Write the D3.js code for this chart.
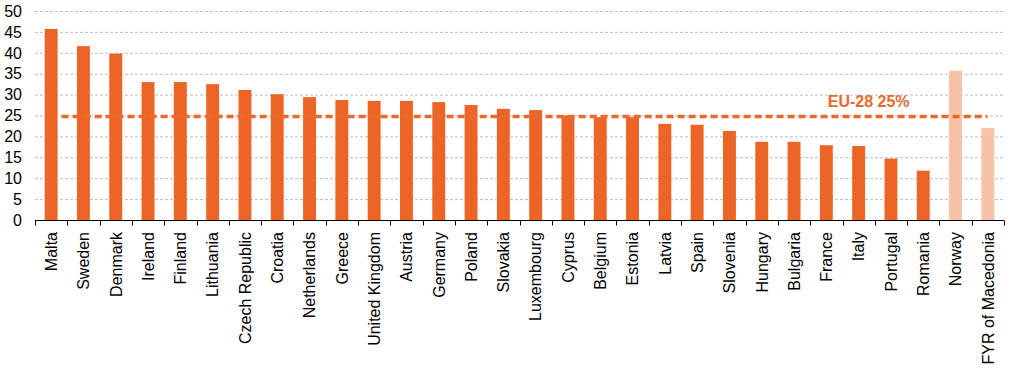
<!DOCTYPE html>
<html>

<head>
    <meta charset="utf-8">
    <title>EU-28 share bar chart</title>
    <script type="text/javascript" src="https://d3js.org/d3.v7.min.js"></script>
    <style>
        body {
            margin: 0;
            background: #fff;
        }

        svg {
            display: block;
            font-family: "Liberation Sans", Arial, sans-serif;
        }
    </style>
</head>

<body>
</body>

<script type="text/javascript">
    var w = 1012;
    var h = 376;

    // countries, left to right
    var countries = ["Malta", "Sweden", "Denmark", "Ireland", "Finland", "Lithuania", "Czech Republic",
        "Croatia", "Netherlands", "Greece", "United Kingdom", "Austria", "Germany", "Poland", "Slovakia",
        "Luxembourg", "Cyprus", "Belgium", "Estonia", "Latvia", "Spain", "Slovenia", "Hungary", "Bulgaria",
        "France", "Italy", "Portugal", "Romania", "Norway", "FYR of Macedonia"];

    var values = [45.7, 41.6, 39.8, 33.0, 33.0, 32.5, 31.1, 30.1, 29.4, 28.7, 28.5, 28.5, 28.2, 27.5, 26.6,
        26.3, 25.0, 24.6, 24.6, 23.0, 22.8, 21.3, 18.7, 18.7, 17.9, 17.7, 14.7, 11.8, 35.7, 22.0];

    // non EU countries get the lighter colour
    var nonEU = ["Norway", "FYR of Macedonia"];

    var yTicks = [0, 5, 10, 15, 20, 25, 30, 35, 40, 45, 50];

    var euAverage = 25;
    var euLabel = "EU-28 25%";

    var margin = { top: 11, right: 8, bottom: 156, left: 35 };

    var svg = d3.select("body").append("svg").attr("width", w).attr("height", h);

    var xScale = d3.scaleBand()
        .domain(countries)
        .range([margin.left, w - margin.right])
        .paddingInner(0.6)
        .paddingOuter(0.3);

    var yScale = d3.scaleLinear()
        .domain([0, 50])
        .range([h - margin.bottom, margin.top]);

    // gridlines
    svg.append("g")
        .selectAll("line")
        .data(yTicks.slice(1))
        .enter()
        .append("line")
        .attr("x1", margin.left)
        .attr("x2", w - margin.right)
        .attr("y1", function(d) { return yScale(d) + 0.5; })
        .attr("y2", function(d) { return yScale(d) + 0.5; })
        .attr("stroke", "#bdbdbd")
        .attr("stroke-width", 1)
        .attr("stroke-dasharray", "3,2");

    // y tick labels
    svg.append("g")
        .selectAll("text")
        .data(yTicks)
        .enter()
        .append("text")
        .attr("x", 22)
        .attr("y", function(d) { return yScale(d); })
        .attr("dy", "0.36em")
        .attr("text-anchor", "end")
        .attr("font-size", 16)
        .attr("fill", "#000")
        .text(function(d) { return d; });

    // bars
    svg.append("g")
        .selectAll("rect")
        .data(countries)
        .enter()
        .append("rect")
        .attr("x", function(d) { return xScale(d); })
        .attr("y", function(d, i) { return yScale(values[i]); })
        .attr("width", xScale.bandwidth())
        .attr("height", function(d, i) { return yScale(0) - yScale(values[i]); })
        .attr("fill", function(d) {
            return nonEU.indexOf(d) >= 0 ? "#F7C2A6" : "#EC6527";
        });

    // EU average dashed line
    svg.append("line")
        .attr("x1", xScale(countries[0]) + xScale.bandwidth() + 4)
        .attr("x2", xScale(countries[countries.length - 1]) + 6)
        .attr("y1", yScale(euAverage) + 1)
        .attr("y2", yScale(euAverage) + 1)
        .attr("stroke", "#EA6A2E")
        .attr("stroke-width", 3.5)
        .attr("stroke-dasharray", "7,4");

    svg.append("text")
        .attr("x", xScale("Italy") + xScale.bandwidth() / 2 + 10)
        .attr("y", yScale(euAverage) - 9)
        .attr("text-anchor", "middle")
        .attr("font-size", 16)
        .attr("font-weight", "bold")
        .attr("fill", "#E8692E")
        .text(euLabel);

    // x axis line with ticks between categories
    var axisY = yScale(0) + 0.5;
    svg.append("line")
        .attr("x1", margin.left)
        .attr("x2", w - margin.right)
        .attr("y1", axisY)
        .attr("y2", axisY)
        .attr("stroke", "#000")
        .attr("stroke-width", 1);

    var boundaries = d3.range(countries.length + 1).map(function(i) {
        return margin.left + i * (w - margin.right - margin.left) / countries.length;
    });

    svg.append("g")
        .selectAll("line")
        .data(boundaries)
        .enter()
        .append("line")
        .attr("x1", function(d) { return Math.round(d) + 0.5; })
        .attr("x2", function(d) { return Math.round(d) + 0.5; })
        .attr("y1", axisY)
        .attr("y2", axisY + 5)
        .attr("stroke", "#000")
        .attr("stroke-width", 1);

    // rotated country labels
    svg.append("g")
        .selectAll("text")
        .data(countries)
        .enter()
        .append("text")
        .attr("transform", function(d) {
            return "translate(" + (xScale(d) + xScale.bandwidth() / 2) + "," + yScale(0) + ") rotate(-90)";
        })
        .attr("x", -12)
        .attr("dy", "0.36em")
        .attr("text-anchor", "end")
        .attr("font-size", 16)
        .attr("fill", "#000")
        .text(function(d) { return d; });
</script>
</html>
